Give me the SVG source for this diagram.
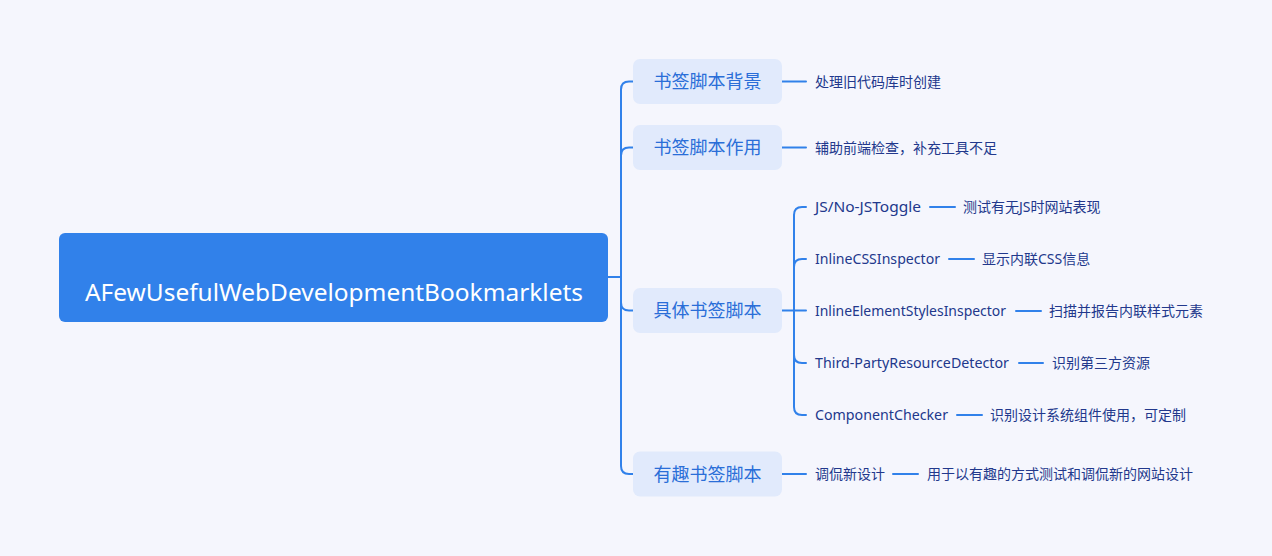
<svg xmlns="http://www.w3.org/2000/svg" width="1272" height="556" viewBox="0 0 1272 556">
<style>
.bg{fill:#f5f6fd}
.root{fill:#3181ea}
.box{fill:#e1eafc}
.ln{fill:none;stroke:#3181ea;stroke-width:2;stroke-linecap:round;stroke-linejoin:round}
.rt{font-family:"Noto Sans","Noto Sans CJK SC",sans-serif;font-size:24px;fill:#ffffff}
.bt{font-family:"Noto Sans CJK SC",sans-serif;font-size:18px;fill:#2a6ed8;text-anchor:middle}
.lt{font-family:"Noto Sans","Noto Sans CJK SC",sans-serif;font-size:14px;fill:#22388c}
</style>
<rect class="bg" x="0" y="0" width="1272" height="556"/>
<g id="connectors">
<path class="ln" d="M608,277 H621 V89.5 Q621,81.5 629,81.5 H633"/>
<path class="ln" d="M621,277 V155.5 Q621,147.5 629,147.5 H633"/>
<path class="ln" d="M621,277 V302.5 Q621,310.5 629,310.5 H633"/>
<path class="ln" d="M621,277 V466 Q621,474 629,474 H633"/>
<path class="ln" d="M782,81.5 H806"/>
<path class="ln" d="M782,147.5 H806"/>
<path class="ln" d="M782,474 H806"/>
<path class="ln" d="M782,310.5 H806"/>
<path class="ln" d="M794,310.5 V215 Q794,207 802,207 H806"/>
<path class="ln" d="M794,310.5 V267 Q794,259 802,259 H806"/>
<path class="ln" d="M794,310.5 V355 Q794,363 802,363 H806"/>
<path class="ln" d="M794,310.5 V407 Q794,415 802,415 H806"/>
<path class="ln" d="M930,207 H955"/>
<path class="ln" d="M949,259 H974"/>
<path class="ln" d="M1016,311 H1041"/>
<path class="ln" d="M1019,363 H1043"/>
<path class="ln" d="M957,415 H982"/>
<path class="ln" d="M893,474 H918"/>
</g>
<g id="root">
<rect class="root" x="59" y="233" width="549" height="89" rx="6"/>
<text class="rt" x="85" y="301" textLength="498" lengthAdjust="spacingAndGlyphs">AFewUsefulWebDevelopmentBookmarklets</text>
</g>
<g id="n1">
<rect class="box" x="633" y="59" width="149" height="45" rx="7"/>
<text class="bt" x="707.5" y="88">书签脚本背景</text>
</g>
<g id="n1a"><text class="lt" x="815" y="86.5">处理旧代码库时创建</text></g>
<g id="n2">
<rect class="box" x="633" y="125" width="149" height="45" rx="7"/>
<text class="bt" x="707.5" y="154">书签脚本作用</text>
</g>
<g id="n2a"><text class="lt" x="815" y="152.5">辅助前端检查，补充工具不足</text></g>
<g id="n3">
<rect class="box" x="633" y="288" width="149" height="45" rx="7"/>
<text class="bt" x="707.5" y="317">具体书签脚本</text>
</g>
<g id="n3a"><text class="lt" x="815" y="212" textLength="106" lengthAdjust="spacingAndGlyphs">JS/No-JSToggle</text></g>
<g id="n3a1"><text class="lt" x="963" y="212">测试有无JS时网站表现</text></g>
<g id="n3b"><text class="lt" x="815" y="264" textLength="125" lengthAdjust="spacingAndGlyphs">InlineCSSInspector</text></g>
<g id="n3b1"><text class="lt" x="982" y="264">显示内联CSS信息</text></g>
<g id="n3c"><text class="lt" x="815" y="316" textLength="191" lengthAdjust="spacingAndGlyphs">InlineElementStylesInspector</text></g>
<g id="n3c1"><text class="lt" x="1049" y="316">扫描并报告内联样式元素</text></g>
<g id="n3d"><text class="lt" x="815" y="368" textLength="194" lengthAdjust="spacingAndGlyphs">Third-PartyResourceDetector</text></g>
<g id="n3d1"><text class="lt" x="1052" y="368">识别第三方资源</text></g>
<g id="n3e"><text class="lt" x="815" y="420" textLength="133" lengthAdjust="spacingAndGlyphs">ComponentChecker</text></g>
<g id="n3e1"><text class="lt" x="990" y="420">识别设计系统组件使用，可定制</text></g>
<g id="n4">
<rect class="box" x="633" y="451.5" width="149" height="45" rx="7"/>
<text class="bt" x="707.5" y="480.5">有趣书签脚本</text>
</g>
<g id="n4a"><text class="lt" x="815" y="479">调侃新设计</text></g>
<g id="n4a1"><text class="lt" x="927" y="479">用于以有趣的方式测试和调侃新的网站设计</text></g>
</svg>
